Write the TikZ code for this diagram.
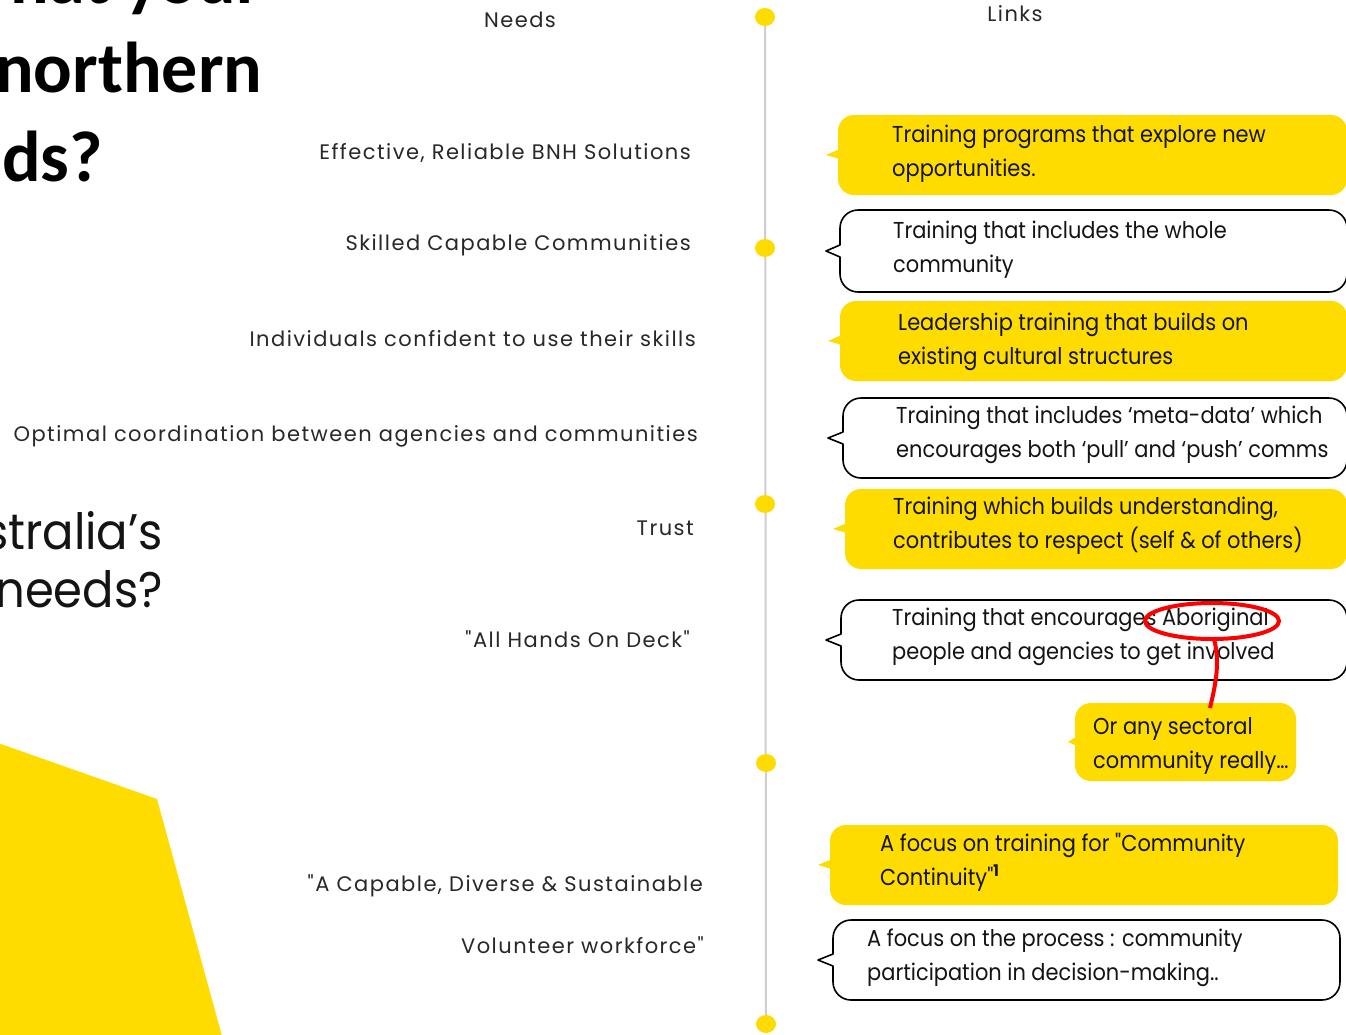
\documentclass[tikz,border=0pt]{standalone}
\usepackage{fontspec}
\setmainfont{Poppins}
\newfontfamily\cgl[LetterSpace=7]{Poppins}
\newfontfamily\cgc[FakeStretch=0.91]{Poppins}
\newfontfamily\cgt[FakeStretch=0.93]{Poppins}
\newfontfamily\calfont{Carlito}
\usetikzlibrary{shapes.geometric}
\definecolor{ylw}{RGB}{255,220,0}
\definecolor{lgray}{RGB}{206,206,206}
\definecolor{lbl}{RGB}{40,40,40}
\definecolor{ctx}{RGB}{20,20,20}
\tikzset{
  lab/.style={font=\cgl\fontsize{21}{25}\selectfont, text=lbl, inner sep=0pt, anchor=base east},
  head/.style={font=\cgl\fontsize{21}{25}\selectfont, text=lbl, inner sep=0pt, anchor=base},
  ctext/.style={font=\cgc\fontsize{23}{34}\selectfont, text=ctx, align=left, inner sep=0pt, anchor=west},
  dot/.style={ellipse, fill=ylw, minimum width=20pt, minimum height=18pt, inner sep=0pt},
  tline/.style={draw=lgray, line width=2pt},
  wbox/.style={draw=black, line width=1.6pt, fill=white, line join=round},
  ybox/.style={fill=ylw},
  redmark/.style={draw=red, line width=4pt},
  bigbold/.style={font=\calfont\bfseries\fontsize{72}{80}\selectfont, inner sep=0pt, anchor=base west},
  bigthin/.style={font=\cgt\fontsize{50}{58}\selectfont, inner sep=0pt, anchor=base east, text=ctx}
}
% yellow callout: L T R B tipx
\newcommand\ycall[5]{%
  \fill[ybox, rounded corners=16pt] (#1,#2) rectangle (#3,#4);
  \fill[ybox] ({#1+2},{(#2+#4)/2-6}) -- (#5,{(#2+#4)/2}) -- ({#1+2},{(#2+#4)/2+4}) -- cycle;
}
% white brace callout: L T R B tipx
\newcommand\wcall[5]{%
  \draw[wbox] (#1,{(#2+#4)/2-6}) [rounded corners=18pt] -- (#1,#2) -- (#3,#2) -- (#3,#4) -- (#1,#4) [sharp corners] -- (#1,{(#2+#4)/2+6}) -- (#5,{(#2+#4)/2}) -- cycle;
}
\begin{document}
\begin{tikzpicture}[x=1pt,y=-1pt]
\useasboundingbox (0,0) rectangle (1346,1034);
\clip (0,0) rectangle (1346,1034);
\fill[white] (0,0) rectangle (1346,1034);

% yellow background polygon
\fill[ylw] (-2,743) -- (157,799) -- (222,1036) -- (-2,1036) -- cycle;

% titles (cut at left edge)
\node[bigbold] (t1) at (-55,3) {What your};
\node[bigbold] (t2) at (-5,92) {northern};
\node[bigbold] (t3) at (2,181) {ds?};
\node[bigthin] (t4) at (163,549) {stralia’s};
\node[bigthin] (t5) at (163,607) {needs?};

% headers
\node[head] (hneeds) at (520,27) {Needs};
\node[head] (hlinks) at (1015,21) {Links};

% timeline
\coordinate (p1) at (765,17);
\coordinate (p5) at (766,1024);
\draw[tline] (p1) -- (p5);
\node[dot] (d1) at (765,17) {};
\node[dot] (d2) at (765,248) {};
\node[dot] (d3) at (765,504) {};
\node[dot] (d4) at (766,763) {};
\node[dot] (d5) at (766,1024) {};

% needs labels
\node[lab] (n1) at (691,159) {Effective, Reliable BNH Solutions};
\node[lab] (n2) at (691,250) {Skilled Capable Communities};
\node[lab] (n3) at (696,346) {Individuals confident to use their skills};
\node[lab] (n4) at (698,441) {Optimal coordination between agencies and communities};
\node[lab] (n5) at (694,535) {Trust};
\node[lab] (n6) at (690,647) {"All Hands On Deck"};
\node[lab] (n7) at (703,891) {"A Capable, Diverse \& Sustainable};
\node[lab] (n8) at (704,953) {Volunteer workforce"};

% callouts
\ycall{838}{115}{1347}{195}{826}
\node[ctext] (c1) at (892,154) {Training programs that explore new\\opportunities.};
\wcall{840}{210}{1347}{292}{826}
\node[ctext] (c2) at (893,250) {Training that includes the whole\\community};
\ycall{840}{301}{1347}{381}{828}
\node[ctext] (c3) at (898,342) {Leadership training that builds on\\existing cultural structures};
\wcall{843}{398}{1347}{478}{828}
\node[ctext] (c4) at (896,435) {Training that includes ‘meta-data’ which\\encourages both ‘pull’ and ‘push’ comms};
\ycall{845}{489}{1347}{569}{833}
\node[ctext] (c5) at (893,526) {Training which builds understanding,\\contributes to respect (self \& of others)};
\wcall{841}{600}{1347}{680}{826}
\node[ctext] (c6) at (892,637) {Training that encourages Aboriginal\\people and agencies to get involved};
\ycall{1075}{703}{1296}{781}{1068}
\node[ctext] (c7) at (1093,746) {Or any sectoral\\community really…};
\ycall{830}{825}{1338}{905}{818}
\node[ctext] (c8) at (880,862) {A focus on training for "Community\\Continuity"\textsuperscript{\bfseries 1}};
\wcall{833}{920}{1340}{1000}{818}
\node[ctext] (c9) at (867,958) {A focus on the process : community\\participation in decision-making..};

% red annotation
\node[ellipse, redmark, minimum width=134pt, minimum height=36pt, inner sep=0pt] (ring) at (1212,621) {};
\coordinate (rb) at (1214,639);
\coordinate (rt) at (1210,708);
\draw[redmark] (rb) .. controls (1221,665) and (1214,690) .. (rt);
\end{tikzpicture}
\end{document}
